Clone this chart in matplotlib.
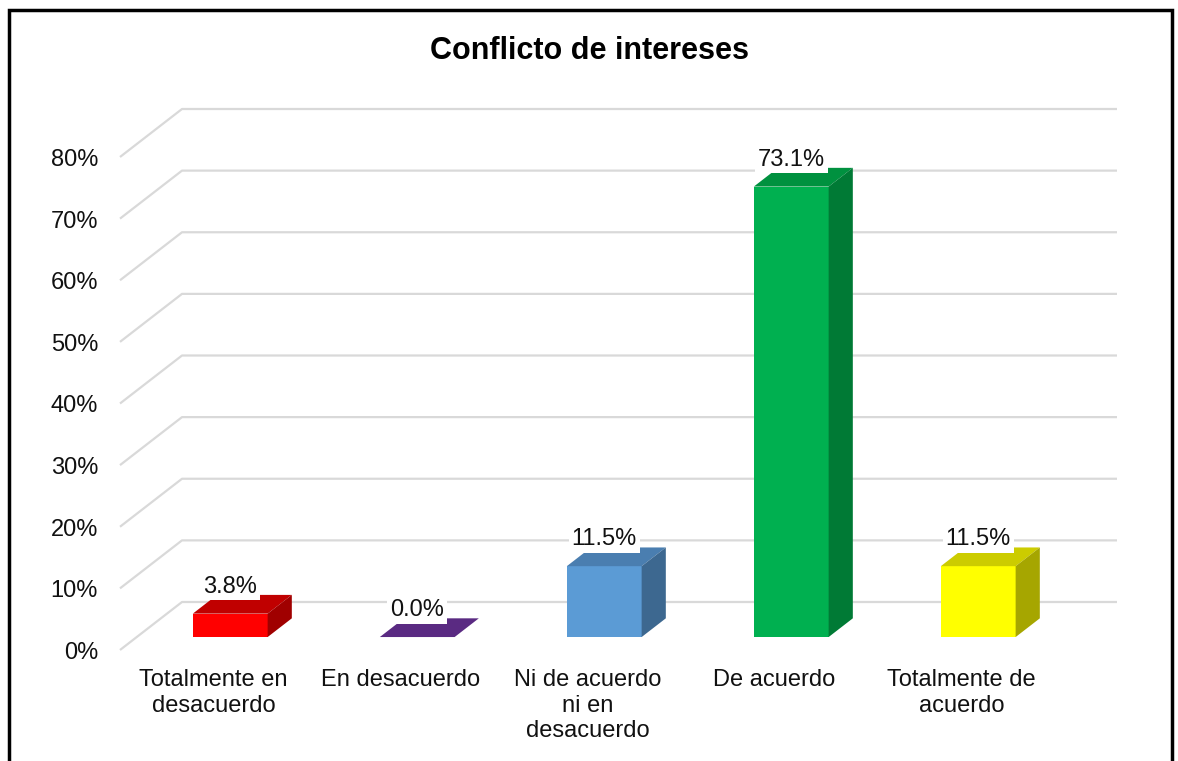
import matplotlib.pyplot as plt
from matplotlib.patches import Polygon, Rectangle

plt.rcParams['font.family'] = ['Liberation Sans', 'DejaVu Sans']

# datos
categorias = ['Totalmente en\ndesacuerdo', 'En desacuerdo', 'Ni de acuerdo\nni en\ndesacuerdo',
              'De acuerdo', 'Totalmente de\nacuerdo']
valores = [3.8, 0.0, 11.5, 73.1, 11.5]
ticks = [0, 10, 20, 30, 40, 50, 60, 70, 80]
titulo = 'Conflicto de intereses'

# colores (frente, arriba, lado)
colores = [('#FF0000', '#C00000', '#A00000'),
           ('#6A3093', '#5A2A82', '#4A226B'),
           ('#5B9BD5', '#4A7EB0', '#3D6890'),
           ('#00B050', '#00913F', '#007A35'),
           ('#FFFF00', '#CCCC00', '#A6A600')]

# profundidad del efecto 3D, en unidades de datos
ox = 62 / 187
oy = 48 / 6.1625
zf, zb = 0.27, 0.66
ancho = 0.2

fig = plt.figure(figsize=(11.78, 7.61), dpi=100)
ax = fig.add_axes([120 / 1178, 111 / 761, 935 / 1178, 493 / 761])
ax.set_xlim(-0.5, 4.5)
ax.set_ylim(0, 80)
ax.axis('off')

# lineas de cuadricula (pared lateral + pared de fondo)
for t in ticks:
    ax.plot([-0.5, -0.5 + ox, 4.5 + ox], [t, t + oy, t + oy], color='#D9D9D9', lw=1.6,
            clip_on=False, zorder=1, solid_capstyle='butt')
    ax.annotate(f'{t}%', (-0.5, t), xytext=(-22, -3), textcoords='offset pixels',
                ha='right', va='center', fontsize=17, color='#111111', annotation_clip=False)

# barras 3D
for i, (v, (cf, ct, cs)) in enumerate(zip(valores, colores)):
    xl = i - ancho + zf * ox
    xr = i + ancho + zf * ox
    y0 = zf * oy
    y1 = y0 + v
    dx = (zb - zf) * ox
    dy = (zb - zf) * oy
    frente = Polygon([(xl, y0), (xr, y0), (xr, y1), (xl, y1)], closed=True, fc=cf, ec='none',
                     clip_on=False, zorder=3)
    arriba = Polygon([(xl, y1), (xr, y1), (xr + dx, y1 + dy), (xl + dx, y1 + dy)], closed=True,
                     fc=ct, ec='none', clip_on=False, zorder=3)
    lado = Polygon([(xr, y0), (xr + dx, y0 + dy), (xr + dx, y1 + dy), (xr, y1)], closed=True,
                   fc=cs, ec='none', clip_on=False, zorder=3)
    for p in (frente, arriba, lado):
        ax.add_patch(p)
    ax.annotate(f'{v:.1f}%', (i + zf * ox, y1), xytext=(0, 27), textcoords='offset pixels',
                ha='center', va='center', fontsize=17, color='#111111', zorder=5,
                annotation_clip=False,
                bbox=dict(boxstyle='square,pad=0.12', fc='white', ec='none'))

# etiquetas de categorias
for i, c in enumerate(categorias):
    ax.annotate(c, (i, 0), xytext=(0, -19), textcoords='offset pixels', ha='center', va='top',
                fontsize=17, color='#111111', linespacing=1.22, multialignment='center',
                annotation_clip=False)

fig.text(0.5, 1 - 51 / 761, titulo, ha='center', va='center', fontsize=22, fontweight='bold')

# marco
fig.patches.append(Rectangle((9 / 1178, -0.1), 1163 / 1178, 0.1 + 1 - 10 / 761, fill=False,
                             ec='black', lw=2.5, transform=fig.transFigure, figure=fig))

fig.savefig('out.png', dpi=100, facecolor='white')
